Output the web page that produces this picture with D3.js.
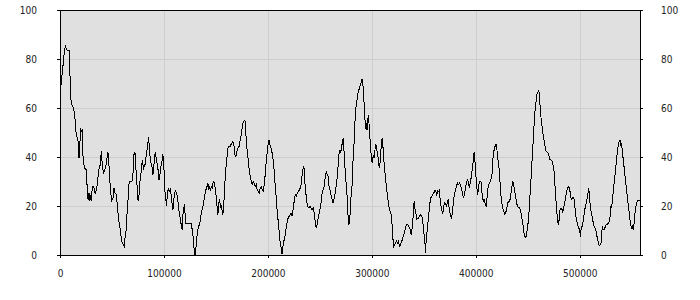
<!DOCTYPE html>
<html>
<head>
<meta charset="utf-8">
<script src="https://cdn.jsdelivr.net/npm/d3@7"></script>
<style>
  body { margin: 0; background: #fff; }
  text { font-family: "Liberation Sans Narrow", "DejaVu Sans Condensed", sans-serif; font-size: 10px; fill: #222; }
</style>
</head>
<body>
<svg id="chart" width="700" height="300"></svg>
<script>
// x positions of the samples
const position = [
  0, 1600, 2600, 3500, 4500, 5400, 6100, 7100, 8700, 9600, 10300, 10900, 12200, 13500, 14700, 15700, 16700, 17900, 18300, 19200,
  19900, 20500, 21200, 21800, 22400, 23700, 25000, 26000, 26600, 27200, 27900, 28500, 29200, 30100, 31100, 32400, 33300, 34300, 35300, 36500,
  37800, 38800, 39700, 40700, 41700, 42600, 43600, 44900, 45800, 46500, 47400, 48400, 49700, 51000, 51900, 52900, 53800, 54800, 55800, 56700,
  57700, 58700, 59900, 60900, 61900, 62500, 63500, 64400, 65400, 66000, 67000, 68600, 69900,
  71200, 72100, 72800, 73400, 74400, 75000, 75600, 76300, 77200, 78200, 79200, 79800, 80400, 81100, 82100, 83000, 84300, 85000, 85600, 86200,
  86900, 87800, 88800, 89400, 90400, 91000, 91700, 92600, 93600, 94600, 95200, 95800, 96500, 97400, 98400, 99000, 99700, 100300, 101000, 101900,
  102600, 103200, 104200, 105100, 106100, 106700, 107400, 108000, 108700, 109300, 110300, 111200, 112200, 113100, 114100, 115100, 116000, 117000, 117600, 118300,
  118900, 119600, 120200, 120800, 121800, 123400, 125000, 126300, 127200, 128200, 128800, 129500, 130100, 130800, 131400, 132400, 133300, 134300, 135300, 136200,
  137200, 138100, 139100, 140100, 141000,
  142300, 143300, 143900, 144600, 145500, 146500, 147400, 148100, 148700, 149700, 150300, 151300, 151900, 152600, 153200, 153800, 154500, 155100, 155800, 156700,
  157400, 158000, 158700, 159600, 160600, 161500, 162500, 163500, 164400, 165400, 166300, 167300, 168300, 169200, 170200, 171200, 172400, 173400, 174400, 175300,
  176300, 177200, 178200, 178800, 179500, 180100, 181100, 182000, 183000, 184000, 184900, 185900, 186900, 187800, 188800, 189700, 190700, 191700, 192600, 193600,
  194500, 195500, 196500, 197400, 198400, 199400, 200300, 201000, 201900, 202900, 203800, 204800, 205800, 206700, 207700, 208700, 209600, 210600, 211200,
  212200, 212800, 213500, 214100, 214700, 215700, 216700, 217600, 218600, 219500, 220500, 221500, 222400, 223400, 224400, 225300, 226300, 227200, 228200, 229200,
  230100, 231100, 232000, 233000, 234000, 234600, 235300, 235900, 236900, 237800, 238800, 239700, 240700, 241700, 242600, 243600, 244500, 245500, 246500, 247400,
  248400, 249400, 250300, 251300, 252200, 253200, 254200, 255100, 256100, 257000, 258000, 258600, 259600, 260600, 261500, 262500, 263500, 264400, 265400, 266300,
  267300, 268300, 269200, 269900, 270800, 271800, 272400, 273100, 273700, 274700, 275600, 276600, 277200, 277900, 278500, 279200, 280100, 281100,
  282000, 282700, 283300, 284000, 284600, 285600, 286200, 287200, 288100, 289100, 290100, 290700, 291300, 292000, 292600, 293300, 293900, 294500, 295200, 295800,
  296500, 297100, 297700, 298400, 299000, 299700, 300300, 301000, 301600, 302200, 302900, 303500, 304200, 304800, 305400, 306100, 306700, 307400, 308000, 308600,
  309300, 309900, 310600, 311200, 311900, 312800, 313800, 314700, 315700, 316700, 317600, 318600, 319200, 319900, 320500, 321100, 321800, 322700, 323700, 324700,
  325600, 326600, 327200, 327900, 328800, 329800, 330800, 331700, 332700, 333600, 334600, 335600, 336500, 337500, 338100, 338800, 339400, 340100, 340700, 341300,
  342000, 342600, 343300, 343900, 344900, 345800, 346800, 347800, 348700, 349300, 350000, 350600, 351300, 351600,
  352200, 352900, 353500, 354100, 354800, 355400, 356100, 356700, 357700, 358600, 359600, 360600, 361500, 362500, 363400, 364400, 365000, 365700, 366300, 367000,
  367600, 368300, 368900, 369500, 370200, 371100, 372100, 372700, 373400, 374000, 374700, 375300, 375900, 376600, 377200, 377900, 378500, 379100, 379800, 380400,
  381400, 382400, 383300, 384300, 385200, 386200, 387200, 388100, 389100, 390000, 391000, 392000, 392900, 393900, 394900, 395800, 396800, 397700, 398400, 399000,
  399700, 400300, 401000, 401900, 402500, 403200, 403800, 404800, 405400, 406100, 406700, 407300, 408000, 408600, 409300, 409900, 410600, 411200, 411800, 412500,
  413400, 414400, 415400, 416000, 416600, 417300, 418200, 418900, 419500, 420200, 420800,
  422400, 423100, 423700, 424300, 425000, 425900, 426900, 427900, 428800, 429800, 430800, 431700, 432700, 433600, 434600, 435600, 436200, 437200, 438100, 439100,
  440000, 441000, 442000, 442900, 443900, 444900, 445800, 446800, 447400, 448400, 449300, 450300, 451300, 452200, 453200, 454100, 454800, 455400, 456100, 456700,
  457300, 458000, 458600, 459600, 460600, 461200, 461800, 462500, 463100, 463800, 464400, 465000, 465700, 466300, 467000, 467600, 468600, 469500, 470500, 471500,
  472400, 473400, 474300, 475300, 475900, 476600, 477200, 477900, 478500, 479100, 479800, 480400, 481100, 482000, 483000, 483600, 484300, 484900, 485600, 486500,
  487500, 488400, 489400, 490400, 491300, 492000,
  492900, 493900, 494900, 495500, 496100, 497100, 498100, 499000, 500000, 500600, 501300, 501900, 502900, 503800, 504800, 505700, 506700, 507700, 508600, 509300,
  509900, 510900, 511800, 512800, 513800, 514700, 515700, 516600, 517600, 518600, 519500, 520500, 521100, 521800, 522700, 523700, 524700, 525600, 526600, 527500,
  528500, 529500, 530100, 530700, 531400, 532300, 533300, 534300, 535200, 536200, 537200, 538100, 538800, 539400, 540000, 540700, 541300, 542300, 543200, 544200,
  545200, 546100, 547100, 548100, 549000, 550000, 550600, 551600, 552200, 552900, 553800, 554800, 555700, 556700, 558000
];

// sample values (0-100)
const value = [
  65, 72, 76, 80, 84, 85.5, 84, 83.5, 83.5, 73.6, 64.8, 61.4, 61, 58.6, 54.6, 48.4, 48, 45, 39.6, 46,
  52, 50.5, 51, 43.7, 38.2, 35.5, 35, 28.7, 23.3, 22.5, 25.3, 22, 24.5, 21.9, 28, 28, 25.7, 25.3, 27.2, 31.4,
  35.8, 36.9, 42.3, 36.9, 33.5, 34, 35.4, 38.2, 42, 41, 34.3, 27.3, 22.2, 23.3, 27.3, 25.3, 25.3, 21.9, 17.1, 13.7,
  11, 7.6, 4.9, 4.2, 3.5, 6.9, 9.7, 16.5, 21.9, 28, 30, 30, 30.6,
  41, 42, 37, 32.8, 26.7, 22.6, 22, 26, 31.4, 34, 38.9, 36.9, 34.8, 36.9, 36.9, 41, 44.4, 48, 45.7, 42.2,
  38.9, 36.9, 35.5, 32.8, 36.9, 40.3, 42, 39.6, 36.9, 34, 30.7, 32, 34, 36.9, 38.9, 41, 37.4, 32.8, 26, 22.6,
  19.9, 24.7, 27.3, 26, 26.7, 25.3, 21.9, 20.5, 18.5, 21.9, 25.3, 26, 25.3, 23.3, 19.2, 16.5, 13.7, 11.7, 10.3, 16.5,
  19.2, 19.9, 17.8, 13, 13, 13, 13, 12.7, 10.3, 6.9, 3.5, 0, 0.3, 2.9, 6.3, 9.7, 11.7, 12.4, 15.1, 17.8,
  19.2, 21.2, 23.9, 26.3, 27.3,
  29.3, 26.7, 28, 26, 28, 27.3, 30, 30, 28.7, 26.7, 23.3, 19.2, 16.5, 19.9, 22.6, 21.9, 19.2, 20.5, 18.5, 16.5,
  19.9, 24, 30, 35.5, 39.6, 43.7, 44.4, 44, 45, 45.7, 46.4, 45, 41, 40.3, 42.3, 43.7, 44.4, 47, 49.1, 51.8,
  54.6, 54.8, 54.6, 49.1, 46.4, 42.3, 38.9, 34.8, 32.1, 30, 28.7, 30, 29.3, 28, 28.7, 26.7, 26, 25.3, 27.3, 28,
  26.7, 26.3, 28.7, 32.8, 38.2, 42.3, 45.7, 47, 45, 43.7, 42.3, 39.6, 35.5, 30, 25.3, 19.2, 15.1, 11, 6.9,
  4.2, 2.9, 0.3, 2.2, 4.2, 6.3, 8.3, 11, 13.7, 15.1, 15.8, 16.5, 17.1, 15.8, 19.2, 21.9, 24.6, 23.9, 25.3, 26,
  26.3, 27.3, 28.7, 32.8, 35.5, 36.2, 32.8, 27.3, 24, 20.5, 19.5, 19.5, 19.7, 19.2, 18.5, 19.2, 17.1, 13.7, 11, 12.4,
  15.1, 17.1, 19.2, 21.9, 25.3, 26.7, 28, 31.4, 34.1, 32.8, 32.1, 28.7, 26.7, 24.6, 23.3, 21.2, 22.6, 24.6, 27.3, 30,
  34.8, 41, 43, 41.6, 43.7, 46.4, 47.8, 43.7, 38.2, 32.8, 27.3, 21.9, 15.1, 12.4, 13.7, 17.1, 24.6, 28.7,
  39.6, 43.7, 50.5, 55.9, 60, 62.7, 65.2, 66.8, 68.2, 69.5, 70.6, 72, 70.2, 66.1, 61.4, 55.9, 52.5, 51.2, 53.9, 51.2,
  57.3, 55.2, 50.5, 46.4, 42.3, 39.6, 37.6, 39.6, 40.3, 39.6, 42.3, 45, 44.8, 43, 40.9, 39.6, 36.9, 35.5, 38.2, 42.3,
  45, 47.8, 45, 40.9, 36.9, 32.8, 28.7, 25.3, 21.9, 19.2, 17.8, 16.5, 13.7, 9.7, 5.6, 3.5, 4.2, 4.9, 5.6, 4.9,
  5.6, 3.5, 3.9, 4.9, 5.6, 6.9, 8.3, 9.7, 11.7, 12.4, 12.4, 11.7, 11, 9, 8.3, 11, 13.7, 17.8, 21.9, 19.2,
  17.8, 16.5, 14.4, 15.1, 15.1, 15.8, 16.5, 15.8, 15.1, 12.4, 9.7, 6.9, 4.2, 0.8,
  5.6, 8.3, 11, 13.7, 16.5, 19.2, 21.9, 23.3, 24, 24.6, 25.3, 26.3, 26, 24.6, 26.3, 26, 26.7, 22.6, 20.5, 19.2,
  17.8, 17.1, 18.5, 20.5, 21.2, 20.5, 19.9, 21.9, 22.6, 20.5, 17.8, 17.1, 15.8, 15.1, 16.5, 19.2, 21.2, 24, 25.3, 26.7,
  28, 29.4, 28.7, 29.4, 28.7, 27.3, 25.3, 23.3, 24.6, 27.3, 29.4, 31, 29.4, 27.3, 30, 32.1, 35.5, 38.9, 42, 39.6,
  35.5, 31.4, 27.3, 24.6, 27.3, 29.4, 30, 30, 29.4, 24.6, 23.3, 21.9, 22.6, 21.9, 20.5, 19.9, 22.6, 24.6, 27.3, 28.7,
  29.4, 30.7, 32.1, 34.8, 39.6, 42.3, 43.7, 45, 45.3, 43.7, 41,
  35.5, 31.4, 27.3, 24, 21.2, 19.2, 17.8, 16.5, 17.1, 19.2, 21.2, 21.9, 21.9, 24.6, 27.3, 30, 29.3, 26.7, 24.6, 21.9,
  19.9, 19.2, 19.2, 18.5, 16.5, 13.7, 11, 7.6, 7.2, 7.6, 9.7, 13, 17.8, 24.6, 31.4, 38.2, 42.3, 49.1, 53.2, 57.3,
  60, 62.7, 65.7, 66.1, 67.1, 65.3, 61.4, 57.3, 54.6, 52.5, 50.5, 48.4, 47, 45, 43.7, 42.3, 42, 41.6, 40.3, 38.9,
  38.9, 38.2, 36.9, 34.1, 30, 26, 21.9, 17.8, 15.1, 13, 12.4, 15.8, 18.5, 19.2, 18.5, 17.1, 18.5, 19.9, 21.2, 24,
  26, 27.3, 28, 26.7, 24, 22.6,
  23.3, 23.3, 22.6, 19.2, 16.5, 13.7, 12.4, 11, 11, 7.2, 10.3, 11, 13, 15.1, 18.5, 19.9, 21.9, 24.6, 27.3, 24.6,
  21.2, 17.8, 15.8, 13.7, 11.7, 11, 9.7, 7.6, 5.6, 3.9, 3.9, 4.9, 8.3, 11.7, 10.3, 10.3, 11.7, 12.4, 12.4, 13,
  13.7, 16.5, 19.9, 19.2, 21.9, 26, 30, 34.1, 38.2, 42.3, 45, 46.4, 47.1, 44.4, 45, 43.7, 41, 37.6, 33.5, 30,
  26, 22.6, 19.2, 15.1, 12.4, 11, 11.7, 10.3, 12.4, 15.8, 19.2, 21.2, 22.2, 22.2, 22.2
];

const xTicks = [0, 100000, 200000, 300000, 400000, 500000];
const yTicks = [0, 20, 40, 60, 80, 100];

const svg = d3.select("#chart");

const plotLeft = 60, plotRight = 640, plotTop = 10, plotBottom = 255;

const x = d3.scaleLinear().domain([0, d3.max(position)]).range([plotLeft, plotRight]);
const y = d3.scaleLinear().domain([0, 100]).range([plotBottom, plotTop]);

// plot background
svg.append("rect")
  .attr("x", plotLeft)
  .attr("y", plotTop)
  .attr("width", plotRight - plotLeft)
  .attr("height", plotBottom - plotTop)
  .attr("fill", "#e0e0e0");

// grid lines
svg.append("g")
  .selectAll("line")
  .data(yTicks.slice(1, -1))
  .join("line")
  .attr("x1", plotLeft)
  .attr("x2", plotRight)
  .attr("y1", d => Math.round(y(d)) + 0.5)
  .attr("y2", d => Math.round(y(d)) + 0.5)
  .attr("stroke", "#cdcdcd")
  .attr("shape-rendering", "crispEdges");

svg.append("g")
  .selectAll("line")
  .data(xTicks.slice(1))
  .join("line")
  .attr("x1", d => Math.round(x(d)) + 0.5)
  .attr("x2", d => Math.round(x(d)) + 0.5)
  .attr("y1", plotTop)
  .attr("y2", plotBottom)
  .attr("stroke", "#cdcdcd")
  .attr("shape-rendering", "crispEdges");

// the series, drawn aliased like the original
const line = d3.line()
  .x((d, i) => x(position[i]))
  .y(d => y(d));

svg.append("path")
  .datum(value)
  .attr("d", line)
  .attr("fill", "none")
  .attr("stroke", "#000")
  .attr("stroke-width", 1)
  .attr("shape-rendering", "crispEdges");

// axes
const styleAxis = g => {
  g.selectAll(".domain").attr("stroke", "#000").attr("shape-rendering", "crispEdges");
  g.selectAll(".tick line").attr("stroke", "#000").attr("shape-rendering", "crispEdges");
  g.selectAll("text").attr("fill", "#222").style("font-size", "10px").attr("font-family", null);
};

svg.append("g")
  .attr("transform", `translate(0,${plotBottom})`)
  .call(d3.axisBottom(x).tickValues(xTicks).tickSize(3).tickSizeOuter(0).tickPadding(12).tickFormat(d3.format("d")))
  .call(styleAxis);

svg.append("g")
  .attr("transform", `translate(${plotLeft},0)`)
  .call(d3.axisLeft(y).tickValues(yTicks).tickSize(3).tickSizeOuter(0).tickPadding(20))
  .call(styleAxis);

svg.append("g")
  .attr("transform", `translate(${plotRight},0)`)
  .call(d3.axisRight(y).tickValues(yTicks).tickSize(3).tickSizeOuter(0).tickPadding(18))
  .call(styleAxis);

// top border
svg.append("line")
  .attr("x1", plotLeft)
  .attr("x2", plotRight)
  .attr("y1", plotTop + 0.5)
  .attr("y2", plotTop + 0.5)
  .attr("stroke", "#000")
  .attr("shape-rendering", "crispEdges");
</script>
</body>
</html>
